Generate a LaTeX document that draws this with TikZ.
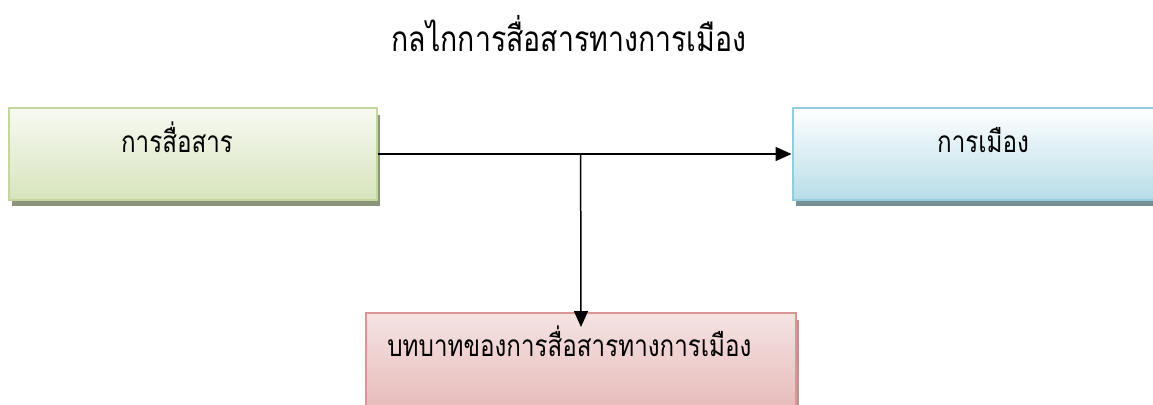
\documentclass[tikz,border=0pt]{standalone}
\usepackage{fontspec}
\newfontfamily\thaifont[Script=Thai,FakeStretch=0.81]{Loma}
\usetikzlibrary{arrows.meta,shadows,calc}
\definecolor{greenline}{HTML}{C3D69B}
\definecolor{greenfill}{HTML}{D7E4BD}
\definecolor{blueline}{HTML}{93CDDD}
\definecolor{bluefill}{HTML}{B7DDE8}
\definecolor{pinkline}{HTML}{D99694}
\definecolor{pinkfill}{HTML}{E6B9B8}
\begin{document}
\begin{tikzpicture}[x=0.02cm,y=-0.02cm,
    box/.style={draw,line width=0.04cm,minimum height=1.84cm,inner sep=0pt,
      drop shadow={shadow xshift=0.06cm,shadow yshift=-0.13cm,fill=#1,opacity=1}},
    txt/.style={anchor=base,inner sep=0pt,font=\thaifont\fontsize{17}{20}\selectfont},
    link/.style={line width=0.03cm,-{Triangle[length=0.32cm,width=0.28cm]}}]
    \useasboundingbox (0,0) rectangle (1153,405);
    \clip (0,0) rectangle (1153,405);
    % title
    \node[txt,font=\thaifont\fontsize{20}{24}\selectfont] (title) at (569,52) {กลไกการสื่อสารทางการเมือง};
    % boxes
    \node[box=black!35!greenfill,greenline,minimum width=7.36cm,top color=white!80!greenfill,bottom color=greenfill] (comm) at (193,154) {};
    \node[box=black!35!bluefill,blueline,minimum width=7.54cm,top color=white,bottom color=bluefill] (pol) at (981,154) {};
    \node[box=black!20!pinkfill,pinkline,minimum width=8.6cm,minimum height=2.04cm,top color=white!60!pinkfill,bottom color=pinkfill] (role) at (581,364) {};
    \node[txt] (commtxt) at (177,153) {การสื่อสาร};
    \node[txt] (poltxt) at (983,153) {การเมือง};
    \node[txt,anchor=base west] (roletxt) at (387,357) {บทบาทของการสื่อสารทางการเมือง};
    % arrows
    \coordinate (junc) at ($(comm.east)!0.49!(pol.west)$);
    \draw[link] (comm.east) -- (pol.west);
    \draw[link] (junc) -- ([yshift=-0.3cm]role.north);
\end{tikzpicture}
\end{document}
